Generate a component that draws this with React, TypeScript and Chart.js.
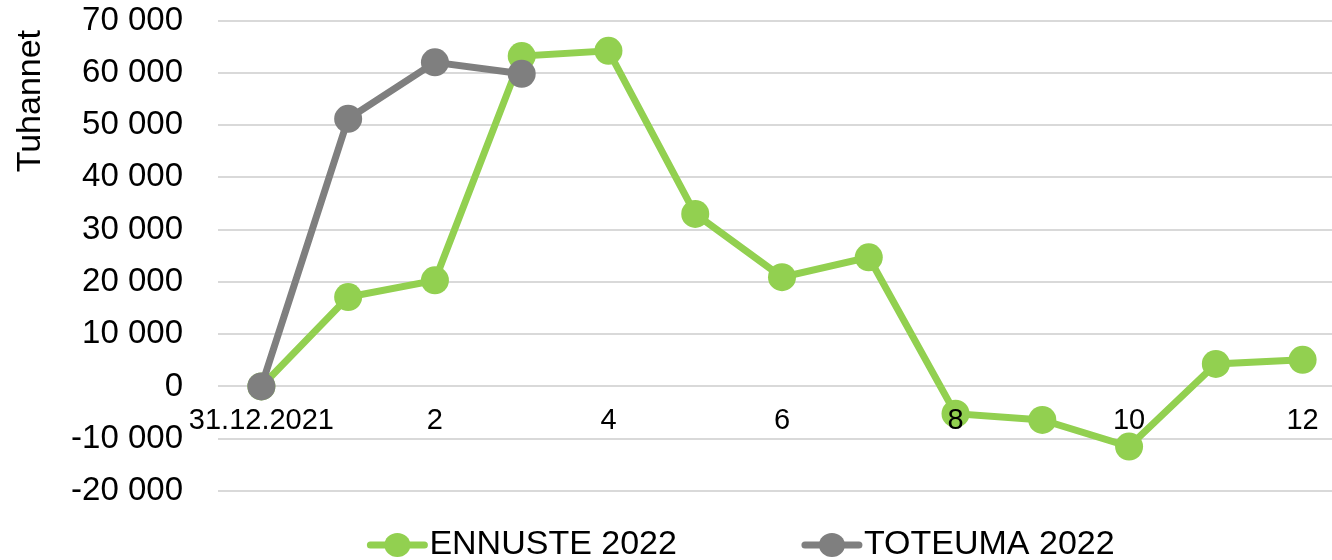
import React, { useEffect, useRef } from 'react';
import { Chart, registerables } from 'chart.js';

Chart.register(...registerables);

// ---- data ----
const categories = ['31.12.2021', '1', '2', '3', '4', '5', '6', '7', '8', '9', '10', '11', '12'];
const ennuste2022 = [0, 17100, 20300, 63200, 64200, 33000, 20900, 24700, -5200, -6400, -11500, 4300, 5100];
const toteuma2022 = [0, 51200, 62000, 59800];
const seriesNames = ['ENNUSTE 2022', 'TOTEUMA 2022'];
const yMin = -20000;
const yMax = 70000;
const yStep = 10000;
const yAxisTitle = 'Tuhannet';

const GREEN = '#92D050';
const GRAY = '#7F7F7F';
const FONT = "'Liberation Sans', Arial, sans-serif";
const X_TICK_SIZE = 29;
const Y_TICK_SIZE = 33;

function fmt(v: number): string {
  const s = Math.abs(v).toString().replace(/\B(?=(\d{3})+(?!\d))/g, ' ');
  return (v < 0 ? '-' : '') + s;
}

const tickFont = (c: any) => ({
  family: FONT,
  size: c && c.scale && c.scale.axis === 'x' ? X_TICK_SIZE : Y_TICK_SIZE,
});

const lineLegend = {
  id: 'lineLegend',
  afterDraw(chart: any, _args: any, opts: any) {
    const ctx = chart.ctx as CanvasRenderingContext2D;
    ctx.save();
    ctx.font = `${opts.fontSize}px ${opts.fontFamily}`;
    const items = chart.data.datasets.map((ds: any) => ({ text: ds.label, color: ds.borderColor }));
    const widths = items.map((it: any) => opts.symbolWidth + opts.textGap + ctx.measureText(it.text).width);
    const total = widths.reduce((a: number, b: number) => a + b, 0) + opts.itemGap * (items.length - 1);
    let x = opts.centerX - total / 2;
    const y = opts.y;
    items.forEach((it: any, i: number) => {
      ctx.strokeStyle = it.color;
      ctx.lineWidth = opts.lineWidth;
      ctx.lineCap = 'round';
      ctx.beginPath();
      ctx.moveTo(x + 3, y);
      ctx.lineTo(x + opts.symbolWidth - 3, y);
      ctx.stroke();
      ctx.fillStyle = it.color;
      ctx.beginPath();
      ctx.ellipse(x + opts.symbolWidth / 2, y, opts.rx, opts.ry, 0, 0, Math.PI * 2);
      ctx.fill();
      ctx.fillStyle = '#000';
      ctx.textBaseline = 'middle';
      ctx.textAlign = 'left';
      ctx.fillText(it.text, x + opts.symbolWidth + opts.textGap, y);
      x += widths[i] + opts.itemGap;
    });
    ctx.restore();
  },
};

export default function App() {
  const ref = useRef<HTMLCanvasElement | null>(null);

  useEffect(() => {
    if (!ref.current) return;
    const chart = new Chart(ref.current, {
      type: 'line',
      data: {
        labels: categories,
        datasets: [
          {
            label: seriesNames[0],
            data: ennuste2022,
            borderColor: GREEN,
            backgroundColor: GREEN,
            pointBackgroundColor: GREEN,
            borderWidth: 7,
            pointRadius: 14,
            pointHoverRadius: 14,
            pointBorderWidth: 0,
            tension: 0,
            order: 2,
          },
          {
            label: seriesNames[1],
            data: toteuma2022,
            borderColor: GRAY,
            backgroundColor: GRAY,
            pointBackgroundColor: GRAY,
            borderWidth: 7,
            pointRadius: 14,
            pointHoverRadius: 14,
            pointBorderWidth: 0,
            tension: 0,
            order: 1,
          },
        ],
      },
      options: {
        animation: false,
        responsive: false,
        maintainAspectRatio: false,
        layout: { padding: { top: 20.5, right: 14, bottom: 69, left: 0 } },
        plugins: {
          legend: { display: false },
          tooltip: { enabled: false },
          title: { display: false },
          lineLegend: {
            fontSize: 34,
            fontFamily: FONT,
            symbolWidth: 60,
            textGap: 2,
            itemGap: 125,
            centerX: 741,
            y: 545,
            lineWidth: 7,
            rx: 13,
            ry: 12,
          },
        } as any,
        scales: {
          x: {
            type: 'category',
            position: { y: 0 } as any,
            offset: true,
            grid: { display: false, drawTicks: false },
            border: { display: false },
            ticks: {
              z: 1,
              autoSkip: false,
              maxRotation: 0,
              minRotation: 0,
              padding: 17,
              color: '#000',
              font: tickFont as any,
              callback: (_v: any, i: number) => (i % 2 === 0 ? categories[i] : ''),
            },
          },
          y: {
            type: 'linear',
            min: yMin,
            max: yMax,
            afterFit: (scale: any) => {
              scale.width = 218;
              scale.paddingTop = 0;
              scale.paddingBottom = 0;
            },
            grid: { color: '#D9D9D9', lineWidth: 2, drawTicks: false },
            border: { display: false },
            ticks: {
              stepSize: yStep,
              padding: 35,
              color: '#000',
              font: tickFont as any,
              callback: (v: any) => fmt(Number(v)),
            },
            title: {
              display: true,
              text: yAxisTitle + ' ',
              align: 'end',
              color: '#000',
              font: { family: FONT, size: 34 },
              padding: { top: 10, bottom: 0 },
            },
          },
        },
      },
      plugins: [lineLegend as any],
    });
    return () => chart.destroy();
  }, []);

  return (
    <div
      style={{
        position: 'fixed',
        left: 0,
        top: 0,
        width: 1332,
        height: 560,
        overflow: 'hidden',
        background: '#fff',
      }}
    >
      <canvas ref={ref} width={1360} height={560} style={{ position: 'absolute', left: 0, top: 0 }} />
    </div>
  );
}
